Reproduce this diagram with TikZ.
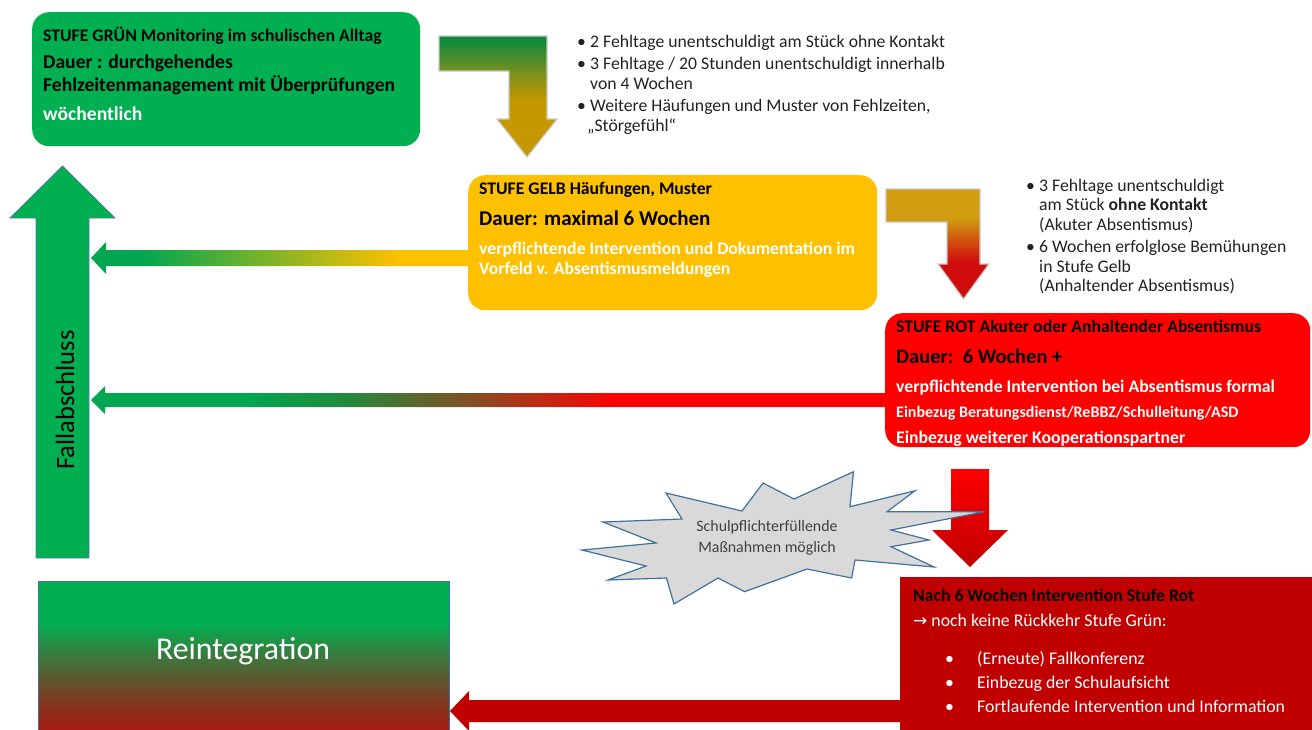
\documentclass[tikz,border=0pt]{standalone}
\usepackage{fontspec}
\setmainfont{Carlito}
\newfontfamily\dejavu{DejaVu Sans}
\usetikzlibrary{calc}
\definecolor{cGreen}{HTML}{00B050}
\definecolor{cArrG}{HTML}{00A651}
\definecolor{cYellow}{HTML}{FFC000}
\definecolor{cRed}{HTML}{FF0000}
\definecolor{cDark}{HTML}{C00000}
\definecolor{cTxt}{HTML}{222222}
\definecolor{cBurst}{HTML}{D9D9D9}
\definecolor{cBurstLine}{HTML}{41719C}
\definecolor{cUpLine}{HTML}{5577B5}
\definecolor{cBentLine}{HTML}{C8C8C8}
\definecolor{cBurstTxt}{HTML}{404040}
\definecolor{cAG}{HTML}{118A3C}
\definecolor{cAO}{HTML}{7A8F1E}
\definecolor{cAGold}{HTML}{C59800}
\definecolor{cBGold}{HTML}{D09E10}
\definecolor{cBOr}{HTML}{D0600E}
\definecolor{cBRed}{HTML}{D00D0D}
\definecolor{cMG}{HTML}{1E8C3C}
\definecolor{cMB}{HTML}{8B4A22}
\definecolor{cRB}{HTML}{B50F0B}
\definecolor{cRBr}{HTML}{7E3A20}
\definecolor{cRO}{HTML}{3A7A3E}
\pgfdeclarehorizontalshading{shgy}{100bp}{color(0bp)=(cArrG); color(31.5bp)=(cArrG); color(66bp)=(cYellow); color(100bp)=(cYellow)}
\pgfdeclarehorizontalshading{shgr}{100bp}{color(0bp)=(cArrG); color(35bp)=(cArrG); color(40.7bp)=(cMG); color(49.5bp)=(cMB); color(58.3bp)=(cRed); color(100bp)=(cRed)}
\pgfdeclareverticalshading{shbentA}{100bp}{color(0bp)=(cAGold); color(48.6bp)=(cAGold); color(60bp)=(cAO); color(73bp)=(cAG); color(100bp)=(cAG)}
\pgfdeclareverticalshading{shbentB}{100bp}{color(0bp)=(cBRed); color(41.8bp)=(cBRed); color(54bp)=(cBOr); color(61.8bp)=(cBGold); color(100bp)=(cBGold)}
\pgfdeclareverticalshading{shreint}{100bp}{color(0bp)=(cRB); color(25bp)=(cRB); color(38bp)=(cRBr); color(52bp)=(cRO); color(62bp)=(cGreen); color(100bp)=(cGreen)}
\newcommand\mysize[1]{\fontsize{#1}{#1}\selectfont}
\tikzset{
  stagebox/.style={rounded corners=17pt, inner sep=0pt, anchor=north west},
  plainbox/.style={inner sep=0pt, anchor=north west},
  txt/.style={inner sep=0pt, anchor=base west},
  small/.style={font=\mysize{17.7}\bfseries},
  big/.style={font=\mysize{19.6}\bfseries},
  bul/.style={inner sep=0pt, anchor=base west, font=\mysize{17.7}, text=cTxt},
  wtxt/.style={inner sep=0pt, anchor=base west, font=\mysize{17.8}, text=white},
  bentline/.style={draw=cBentLine, line width=1.2pt},
}
\begin{document}
\begin{tikzpicture}[x=1pt,y=-1pt]
\useasboundingbox (0,0) rectangle (1312,729);

% ---------- stage boxes ----------
\node[stagebox, fill=cGreen, minimum width=388pt, minimum height=134pt] (gruen) at (32,12) {};
\node[stagebox, fill=cYellow, minimum width=409pt, minimum height=135pt] (gelb) at (468,175) {};
\node[stagebox, fill=cRed, minimum width=425pt, minimum height=134pt] (rot) at (885,313) {};
\node[plainbox, fill=cDark, minimum width=412pt, minimum height=160pt] (nach) at (900,577) {};
\node[plainbox, shading=shreint, draw=cBurstLine, line width=0.8pt, minimum width=411pt, minimum height=160pt] (reint) at (38,581) {};
\node[font=\mysize{31.8}, text=white, inner sep=0pt] (reinttxt) at (243,651) {Reintegration};

% ---------- green box text ----------
\node[txt, small] (g1) at (43,41) {STUFE GRÜN Monitoring im schulischen Alltag};
\node[txt, big] (g2) at (43,68) {Dauer : durchgehendes};
\node[txt, big] (g3) at (43,91) {Fehlzeitenmanagement mit Überprüfungen};
\node[txt, big, text=white] (g4) at (43,120.5) {wöchentlich};

% ---------- yellow box text ----------
\node[txt, small] (y1) at (479,194.5) {STUFE GELB Häufungen, Muster};
\node[txt, font=\mysize{21}\bfseries] (y2) at (479,225) {Dauer: maximal 6 Wochen};
\node[txt, small, text=white] (y3) at (479,254) {verpflichtende Intervention und Dokumentation im};
\node[txt, small, text=white] (y4) at (479,274) {Vorfeld v. Absentismusmeldungen};

% ---------- red box text ----------
\node[txt, small] (r1) at (896,332.5) {STUFE ROT Akuter oder Anhaltender Absentismus};
\node[txt, font=\mysize{20.5}\bfseries] (r2) at (896,363) {Dauer:\ \ 6 Wochen +};
\node[txt, small, text=white] (r3) at (896,392) {verpflichtende Intervention bei Absentismus formal};
\node[txt, font=\mysize{16}\bfseries, text=white] (r4) at (896,417.5) {Einbezug Beratungsdienst/ReBBZ/Schulleitung/ASD};
\node[txt, small, text=white] (r5) at (896,443) {Einbezug weiterer Kooperationspartner};

% ---------- dark red box text ----------
\node[txt, small] (n1) at (913,601.5) {Nach 6 Wochen Intervention Stufe Rot};
\node[wtxt] (n2) at (913,626.5) {{\dejavu\mysize{17}→} noch keine Rückkehr Stufe Grün:};
\node[wtxt] (nb1) at (945,664.5) {•};
\node[wtxt] (n3) at (977,664.5) {(Erneute) Fallkonferenz};
\node[wtxt] (nb2) at (945,688.5) {•};
\node[wtxt] (n4) at (977,688.5) {Einbezug der Schulaufsicht};
\node[wtxt] (nb3) at (945,712.5) {•};
\node[wtxt] (n5) at (977,712.5) {Fortlaufende Intervention und Information};

% ---------- bullet list 1 ----------
\node[bul] (a0) at (577,47.5) {•};
\node[bul] (a1) at (590,47.5) {2 Fehltage unentschuldigt am Stück ohne Kontakt};
\node[bul] (b0) at (577,69.5) {•};
\node[bul] (b1) at (590,69.5) {3 Fehltage / 20 Stunden unentschuldigt innerhalb};
\node[bul] (b2) at (590,89.5) {von 4 Wochen};
\node[bul] (c0) at (577,111.5) {•};
\node[bul] (c1) at (590,111.5) {Weitere Häufungen und Muster von Fehlzeiten,};
\node[bul] (c2) at (587,131.5) {„Störgefühl“};

% ---------- bullet list 2 ----------
\node[bul] (d0) at (1026,191.5) {•};
\node[bul] (d1) at (1039,191.5) {3 Fehltage unentschuldigt};
\node[bul] (d2) at (1039,210.5) {am Stück \textbf{ohne Kontakt}};
\node[bul] (d3) at (1039,230.5) {(Akuter Absentismus)};
\node[bul] (e0) at (1026,252.5) {•};
\node[bul] (e1) at (1039,252.5) {6 Wochen erfolglose Bemühungen};
\node[bul] (e2) at (1039,272.5) {in Stufe Gelb};
\node[bul] (e3) at (1039,291.5) {(Anhaltender Absentismus)};

% ---------- bent arrows ----------
\shade[shading=shbentA, bentline] (439,36) -- (547,36) -- (547,119) -- (557,119) -- (527,157) -- (497,119) -- (509,119) -- (509,71) -- (439,71) -- cycle;
\shade[shading=shbentB, bentline] (886,189) -- (980,189) -- (980,264) -- (989,264) -- (963.5,299) -- (938,264) -- (947,264) -- (947,222) -- (886,222) -- cycle;

% ---------- up arrow Fallabschluss ----------
\filldraw[fill=cGreen, draw=cUpLine, line width=0.8pt] (36,558) -- (36,218) -- (10,218) -- (62.5,166) -- (115,218) -- (89,218) -- (89,558) -- cycle;
\node[rotate=90, font=\mysize{26.5}, text=black, inner sep=0pt] (fall) at (65,400) {Fallabschluss};

% ---------- horizontal arrows ----------
\coordinate (t1) at (91,258);
\coordinate (t2) at (91,400);
\coordinate (t3) at (450,711);
\shade[shading=shgy] (t1) -- ++(15,-16) -- ++(0,8) -- (gelb.west |- 0,250) -- (gelb.west |- 0,266) -- (106,266) -- (106,274) -- cycle;
\shade[shading=shgr] (t2) -- ++(14,-14) -- ++(0,7) -- (rot.west |- 0,393) -- (rot.west |- 0,407) -- (105,407) -- (105,414) -- cycle;
\fill[cDark] (t3) -- ++(19,-20) -- ++(0,9) -- (nach.west |- 0,700) -- (nach.west |- 0,722) -- (469,722) -- (469,731) -- cycle;

% ---------- red down arrow ----------
\shade[top color=cRed, bottom color=cDark] (951,469) -- (989,469) -- (989,530) -- (1008,530) -- (970,567) -- (932,530) -- (951,530) -- cycle;

% ---------- starburst ----------
\filldraw[fill=cBurst, draw=cBurstLine, line width=1.2pt, line join=miter]
 (582,550) -- (656,543) -- (603,522) -- (682,519) -- (666,493) -- (742,511) -- (763,483) -- (794,499)
 -- (853.5,471.7) -- (850,506.7) -- (915,490.7) -- (887,511.7) -- (984.5,511.7) -- (891,530) -- (929,540)
 -- (891,546.7) -- (934,567) -- (855,560) -- (851.6,578) -- (807,569) -- (744.6,591.7) -- (718,578)
 -- (674,604) -- (666.5,578) -- (608,580) -- (646,566) -- cycle;
\node[font=\mysize{15.9}, text=cBurstTxt, align=center, inner sep=0pt] (burst) at (767,538) {Schulpflichterfüllende\\[5pt]Maßnahmen möglich};
\end{tikzpicture}
\end{document}
